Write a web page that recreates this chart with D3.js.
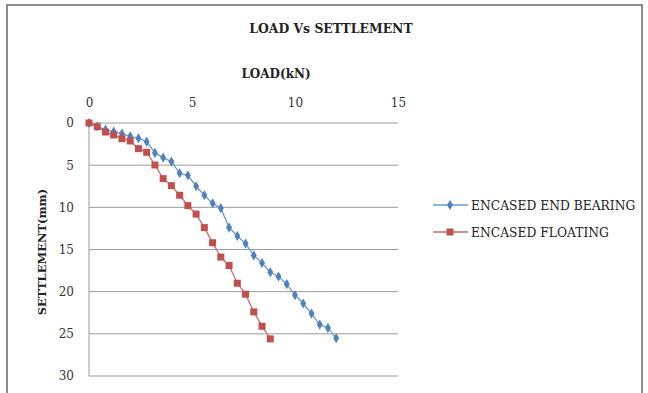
<!DOCTYPE html>
<html>
<head>
<meta charset="utf-8">
<script src="https://cdn.jsdelivr.net/npm/d3@7"></script>
<style>
  body { margin: 0; background: #fff; }
</style>
</head>
<body>
<div id="chart"></div>
<script>
// load steps (kN) and settlement readings (mm)
var endBearingLoad = [0, 0.4, 0.8, 1.2, 1.6, 2.0, 2.4, 2.8, 3.2, 3.6, 4.0, 4.4, 4.8, 5.2, 5.6, 6.0,
  6.4, 6.8, 7.2, 7.6, 8.0, 8.4, 8.8, 9.2, 9.6, 10.0, 10.4, 10.8, 11.2, 11.6, 12.0]
var endBearingSettle = [0, 0.4, 0.79, 1.03, 1.27, 1.58, 1.81, 2.21, 3.55, 4.11, 4.58, 5.96, 6.2, 7.5, 8.57, 9.53,
  10.1, 12.4, 13.4, 14.3, 15.7, 16.6, 17.7, 18.2, 19.1, 20.4, 21.4, 22.6, 23.9, 24.3, 25.5]

var floatingLoad = [0, 0.4, 0.8, 1.2, 1.6, 2.0, 2.4, 2.8, 3.2, 3.6, 4.0, 4.4, 4.8, 5.2, 5.6, 6.0,
  6.4, 6.8, 7.2, 7.6, 8.0, 8.4, 8.8]
var floatingSettle = [0, 0.44, 1.07, 1.42, 1.86, 2.13, 3.04, 3.47, 4.98, 6.6, 7.43, 8.57, 9.8, 10.8, 12.4, 14.2,
  15.9, 16.9, 19.0, 20.3, 22.4, 24.1, 25.6]

var xTicks = [0, 5, 10, 15]
var yTicks = [0, 5, 10, 15, 20, 25, 30]
var seriesNames = ["ENCASED END BEARING", "ENCASED FLOATING"]

var FONT = "DejaVu Serif, Liberation Serif, serif"

var W = 648, H = 393
var margin = { top: 123, left: 89 },
  width = 398 - margin.left,
  height = 376 - margin.top

var svg = d3.select("#chart").append("svg")
  .attr("width", W)
  .attr("height", H)
  .style("font-family", FONT)

// outer chart border
svg.append("rect")
  .attr("x", 7).attr("y", 5)
  .attr("width", 635).attr("height", 400)
  .attr("fill", "none")
  .attr("stroke", "#8c8c8c")
  .attr("stroke-width", 2)

svg.append("text")
  .attr("x", 331).attr("y", 33)
  .attr("text-anchor", "middle")
  .attr("font-size", 12.4)
  .attr("font-weight", "bold")
  .style("font-family", FONT)
  .attr("fill", "#222")
  .text("LOAD Vs SETTLEMENT")

var g = svg.append("g")
  .attr("transform", "translate(" + margin.left + "," + margin.top + ")")

var x = d3.scaleLinear().domain([0, 15]).range([0, width])
var y = d3.scaleLinear().domain([0, 30]).range([0, height])

// gridlines
g.selectAll(".grid").data(yTicks).enter().append("line")
  .attr("x1", 0).attr("x2", width)
  .attr("y1", function(d) { return y(d) })
  .attr("y2", function(d) { return y(d) })
  .attr("stroke", "#9a9a9a")
  .attr("stroke-width", 1)

// left axis line
g.append("line")
  .attr("x1", 0).attr("x2", 0)
  .attr("y1", 0).attr("y2", height)
  .attr("stroke", "#9a9a9a")

// top axis labels
var xAxis = g.append("g")
  .call(d3.axisTop(x).tickValues(xTicks).tickSize(0).tickPadding(16))
  .attr("font-size", 12)
xAxis.select(".domain").remove()
xAxis.selectAll("text").attr("fill", "#333").style("font-family", FONT)

var yAxis = g.append("g")
  .call(d3.axisLeft(y).tickValues(yTicks).tickSize(0).tickPadding(15))
  .attr("font-size", 12)
yAxis.select(".domain").remove()
yAxis.selectAll("text").attr("fill", "#333").style("font-family", FONT)

svg.append("text")
  .attr("x", 276).attr("y", 78)
  .attr("text-anchor", "middle")
  .attr("font-size", 12)
  .attr("font-weight", "bold")
  .style("font-family", FONT)
  .attr("fill", "#222")
  .text("LOAD(kN)")

svg.append("text")
  .attr("transform", "translate(46,252) rotate(-90)")
  .attr("text-anchor", "middle")
  .attr("font-size", 11.5)
  .attr("font-weight", "bold")
  .style("font-family", FONT)
  .attr("fill", "#222")
  .text("SETTLEMENT(mm)")

var line = d3.line()
  .x(function(d) { return x(d[0]) })
  .y(function(d) { return y(d[1]) })

var blueData = endBearingLoad.map(function(v, i) { return [v, endBearingSettle[i]] })
var redData = floatingLoad.map(function(v, i) { return [v, floatingSettle[i]] })

var blue = "#4f81bd", red = "#c0504d"

g.append("path").datum(blueData)
  .attr("d", line).attr("fill", "none")
  .attr("stroke", "#6d9bd1").attr("stroke-width", 1.3)
g.selectAll(".bpt").data(blueData).enter().append("path")
  .attr("d", d3.symbol().type(d3.symbolDiamond).size(30))
  .attr("transform", function(d) { return "translate(" + x(d[0]) + "," + y(d[1]) + ")" })
  .attr("fill", blue)

g.append("path").datum(redData)
  .attr("d", line).attr("fill", "none")
  .attr("stroke", "#c96b69").attr("stroke-width", 1.3)
g.selectAll(".rpt").data(redData).enter().append("rect")
  .attr("x", function(d) { return x(d[0]) - 3.5 })
  .attr("y", function(d) { return y(d[1]) - 3.5 })
  .attr("width", 7).attr("height", 7)
  .attr("fill", red)

// legend
var legend = svg.append("g")
var legendColors = [blue, red]
seriesNames.forEach(function(name, i) {
  var ly = 205 + i * 27
  legend.append("line")
    .attr("x1", 433).attr("x2", 468)
    .attr("y1", ly).attr("y2", ly)
    .attr("stroke", i === 0 ? "#6d9bd1" : "#c96b69")
    .attr("stroke-width", 1.3)
  if (i === 0) {
    legend.append("path")
      .attr("d", d3.symbol().type(d3.symbolDiamond).size(30))
      .attr("transform", "translate(450," + ly + ")")
      .attr("fill", legendColors[i])
  } else {
    legend.append("rect")
      .attr("x", 446.5).attr("y", ly - 3.5)
      .attr("width", 7).attr("height", 7)
      .attr("fill", legendColors[i])
  }
  legend.append("text")
    .attr("x", 471).attr("y", ly + 4.5)
    .attr("font-size", 12.3)
    .style("font-family", FONT)
    .attr("fill", "#222")
    .text(name)
})
</script>
</body>
</html>
